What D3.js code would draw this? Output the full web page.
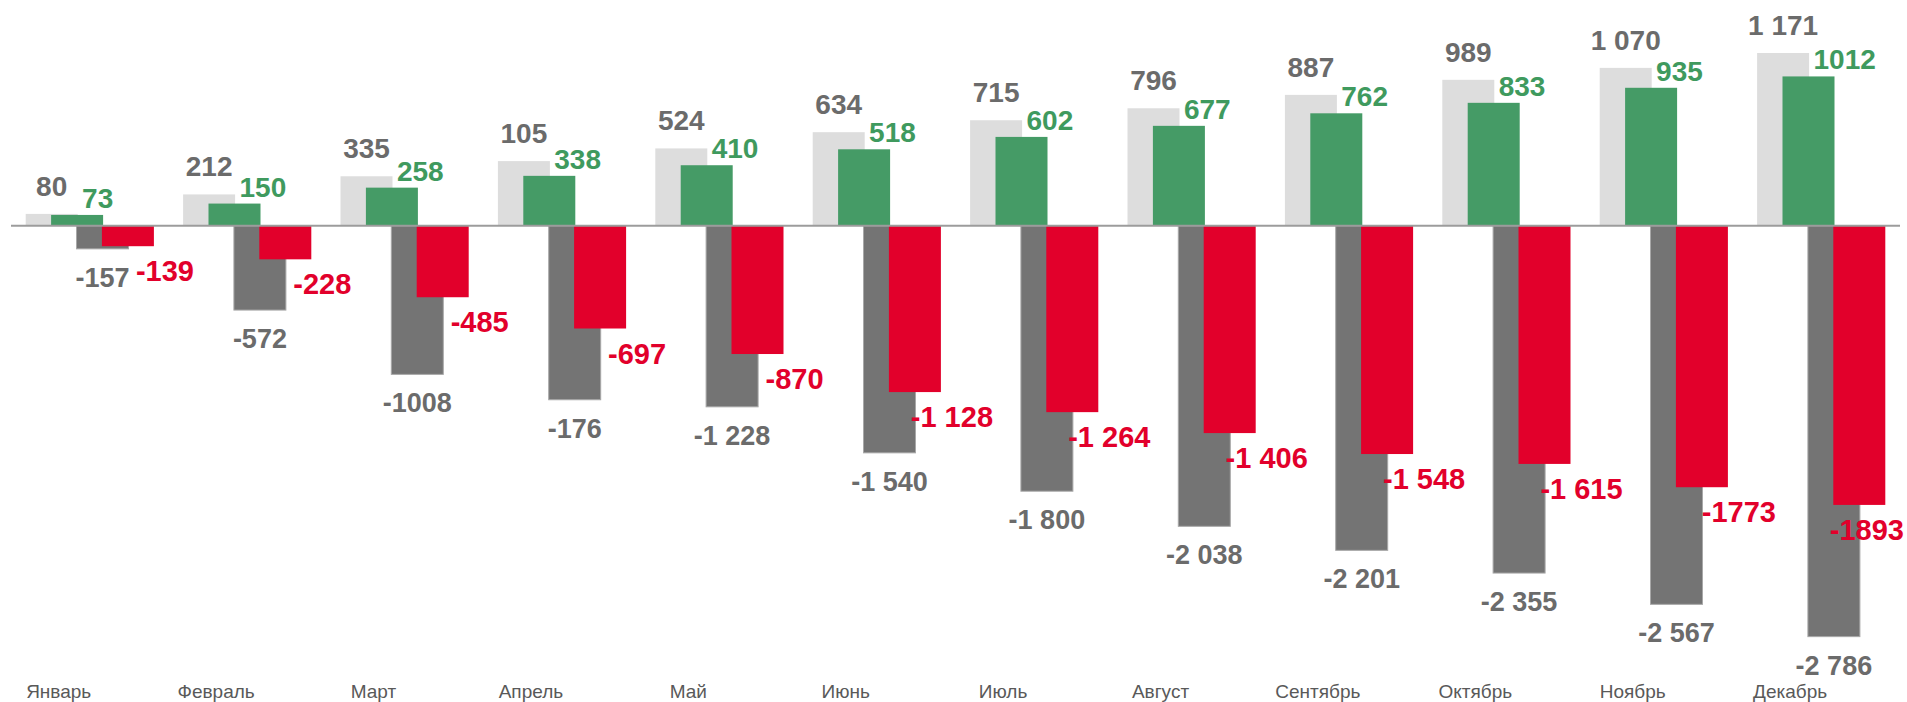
<!DOCTYPE html>
<html>
<head>
<meta charset="utf-8">
<script src="https://cdn.jsdelivr.net/npm/d3@7"></script>
<style>
  body { margin:0; background:#fff; }
  text { font-family: "Liberation Sans", Arial, sans-serif; }
</style>
</head>
<body>
<div id="svg"></div>
<script>
// months
var months = ["Январь","Февраль","Март","Апрель","Май","Июнь","Июль","Август","Сентябрь","Октябрь","Ноябрь","Декабрь"];

// bar values
var lightVals = [80,212,335,438,524,634,715,796,887,989,1070,1171];
var greenVals = [73,150,258,338,410,518,602,677,762,833,935,1012];
var grayVals  = [-157,-572,-1008,-1180,-1228,-1540,-1800,-2038,-2201,-2355,-2567,-2786];
var redVals   = [-139,-228,-485,-697,-870,-1128,-1264,-1406,-1548,-1615,-1773,-1893];

// label texts as printed on the chart
var lightLabels = ["80","212","335","105","524","634","715","796","887","989","1 070","1 171"];
var greenLabels = ["73","150","258","338","410","518","602","677","762","833","935","1012"];
var grayLabels  = ["-157","-572","-1008","-176","-1 228","-1 540","-1 800","-2 038","-2 201","-2 355","-2 567","-2 786"];
var redLabels   = ["-139","-228","-485","-697","-870","-1 128","-1 264","-1 406","-1 548","-1 615","-1773","-1893"];

var width = 1907, height = 702;
var barW = 52;

var svg = d3.select("#svg").append("svg")
  .attr("width", width)
  .attr("height", height);

// group position per month
var xScale = d3.scaleBand()
  .domain(months)
  .range([25.7, 25.7 + 11*157.4 + 128.2])
  .paddingInner(1 - 128.2/157.4)
  .paddingOuter(0);

// offset of the 4 overlapping bars inside a group
var sub = d3.scaleLinear()
  .domain([0, 3])
  .range([0, xScale.bandwidth() - barW]);

var yScale = d3.scaleLinear()
  .domain([-3000, 1600])
  .range([225.7 + 3000*0.1475, 225.7 - 1600*0.1475]);

function bars(vals, idx, fill, stroke) {
  svg.append("g").selectAll("rect")
    .data(vals)
    .enter().append("rect")
    .attr("x", function(d,i){ return xScale(months[i]) + sub(idx); })
    .attr("y", function(d){ return yScale(Math.max(d,0)); })
    .attr("width", barW)
    .attr("height", function(d){ return Math.abs(yScale(d) - yScale(0)); })
    .attr("fill", fill)
    .attr("stroke", stroke || "none")
    .attr("stroke-width", stroke ? 1 : 0);
}

bars(lightVals, 0, "#dddddd");
bars(greenVals, 1, "#459b66");
bars(grayVals, 2, "#747474", "#a8a8a8");
bars(redVals, 3, "#e2002b");

// zero line
svg.append("line")
  .attr("x1", 11).attr("x2", 1900)
  .attr("y1", yScale(0)).attr("y2", yScale(0))
  .attr("stroke", "#9c9c9c")
  .attr("stroke-width", 2);

// value labels
svg.append("g").selectAll("text")
  .data(lightVals)
  .enter().append("text")
  .attr("x", function(d,i){ return xScale(months[i]) + sub(0) + barW/2; })
  .attr("y", function(d){ return yScale(d) - 18; })
  .attr("text-anchor", "middle")
  .attr("font-size", 28).attr("font-weight", "bold")
  .attr("fill", "#6b6b6b")
  .text(function(d,i){ return lightLabels[i]; });

svg.append("g").selectAll("text")
  .data(greenVals)
  .enter().append("text")
  .attr("x", function(d,i){ return xScale(months[i]) + sub(1) + 31; })
  .attr("y", function(d){ return yScale(d) - 7; })
  .attr("text-anchor", "start")
  .attr("font-size", 28).attr("font-weight", "bold")
  .attr("fill", "#3f9a5e")
  .text(function(d,i){ return greenLabels[i]; });

svg.append("g").selectAll("text")
  .data(grayVals)
  .enter().append("text")
  .attr("x", function(d,i){ return xScale(months[i]) + sub(2) + barW/2; })
  .attr("y", function(d){ return yScale(d) + 38; })
  .attr("text-anchor", "middle")
  .attr("font-size", 27).attr("font-weight", "bold")
  .attr("fill", "#6b6b6b")
  .text(function(d,i){ return grayLabels[i]; });

var redText = svg.append("g").selectAll("text")
  .data(redVals)
  .enter().append("text")
  .attr("y", function(d){ return yScale(d) + 35; })
  .attr("text-anchor", "middle")
  .attr("font-size", 29).attr("font-weight", "bold")
  .attr("fill", "#e2002b")
  .text(function(d,i){ return redLabels[i]; });

// keep red labels inside the picture
redText.attr("x", function(d,i){
  var cx = xScale(months[i]) + sub(3) + barW/2 + 37;
  var w = this.getComputedTextLength();
  return Math.min(cx, width - 3 - w/2);
});

// month names
svg.append("g").selectAll("text")
  .data(months)
  .enter().append("text")
  .attr("x", function(d){ return xScale(d) + 33; })
  .attr("y", 698)
  .attr("text-anchor", "middle")
  .attr("font-size", 19)
  .attr("fill", "#595959")
  .text(function(d){ return d; });
</script>
</body>
</html>
